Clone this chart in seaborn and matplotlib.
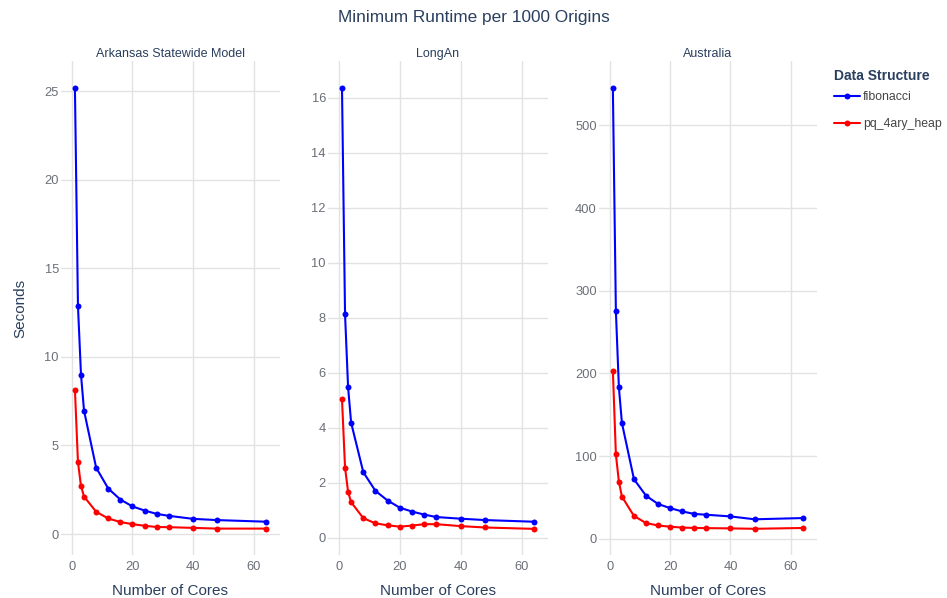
import pandas as pd
import matplotlib
matplotlib.use("Agg")
import matplotlib.pyplot as plt
import seaborn as sns

# data
cores = [1, 2, 3, 4, 8, 12, 16, 20, 24, 28, 32, 40, 48, 64]
networks = ["Arkansas Statewide Model", "LongAn", "Australia"]
structures = ["fibonacci", "pq_4ary_heap"]

arkansas_fib = [25.15, 12.87, 9.0, 6.97, 3.75, 2.57, 1.95, 1.56, 1.33, 1.14, 1.03, 0.86, 0.79, 0.70]
arkansas_pq = [8.14, 4.06, 2.72, 2.12, 1.26, 0.88, 0.68, 0.56, 0.47, 0.40, 0.39, 0.35, 0.31, 0.31]
longan_fib = [16.34, 8.12, 5.47, 4.18, 2.38, 1.70, 1.35, 1.09, 0.95, 0.84, 0.75, 0.69, 0.64, 0.58]
longan_pq = [5.03, 2.55, 1.67, 1.29, 0.71, 0.52, 0.45, 0.40, 0.44, 0.49, 0.49, 0.42, 0.37, 0.32]
australia_fib = [545, 275, 183, 140, 72, 52, 42, 37, 33, 30, 29, 27, 23.5, 25]
australia_pq = [203, 102, 69, 51, 27.5, 19, 16, 14.5, 13.5, 13, 12.8, 12.5, 12, 13]

series = {
    "Arkansas Statewide Model": {"fibonacci": arkansas_fib, "pq_4ary_heap": arkansas_pq},
    "LongAn": {"fibonacci": longan_fib, "pq_4ary_heap": longan_pq},
    "Australia": {"fibonacci": australia_fib, "pq_4ary_heap": australia_pq},
}

rows = []
for net in networks:
    for ds in structures:
        for c, v in zip(cores, series[net][ds]):
            rows.append({"Network": net, "Data Structure": ds, "Number of Cores": c, "Seconds": v})
df = pd.DataFrame(rows)

sns.set_theme(style="whitegrid")
plt.rcParams["font.family"] = ["Liberation Sans", "DejaVu Sans"]

navy = "#2a3f5f"
tick_col = "#6b6f78"
grid_col = "#e2e2e2"
palette = {"fibonacci": "#0000ff", "pq_4ary_heap": "#ff0000"}

fig = plt.figure(figsize=(9.47, 5.98), dpi=100)
W, H = 947, 598

# panel positions in pixels (left, right)
panels = [(61, 280), (328, 548), (599, 817)]
top, bottom = 61, 555
ylims = [(-1.18, 26.7), (-0.63, 17.33), (-19.7, 578)]
yticks = [range(0, 26, 5), range(0, 17, 2), range(0, 501, 100)]

axes = []
for i, net in enumerate(networks):
    l, r = panels[i]
    ax = fig.add_axes([l / W, 1 - bottom / H, (r - l) / W, (bottom - top) / H])
    sns.lineplot(data=df[df["Network"] == net], x="Number of Cores", y="Seconds",
                 hue="Data Structure", palette=palette, marker="o", markersize=4.3,
                 markeredgewidth=0, linewidth=1.5, ax=ax, legend=(i == 2))
    ax.set_xlim(-3.6, 68.7)
    ax.set_ylim(*ylims[i])
    ax.set_xticks([0, 20, 40, 60])
    ax.set_yticks(list(yticks[i]))
    ax.set_facecolor("white")
    ax.grid(True, color=grid_col, linewidth=1)
    for s in ax.spines.values():
        s.set_visible(False)
    ax.tick_params(axis="y", length=0, labelsize=9.3, colors=tick_col, pad=1.5)
    ax.tick_params(axis="x", length=0, labelsize=9.3, colors=tick_col, pad=4)
    ax.set_title(net, fontsize=9, color=navy, pad=3)
    ax.set_xlabel("Number of Cores", fontsize=11, color=navy, labelpad=8)
    if i == 0:
        ax.set_ylabel("Seconds", fontsize=11, color=navy, labelpad=12)
    else:
        ax.set_ylabel("")
    axes.append(ax)

# legend title drawn separately so its gap to the entries matches
sns.move_legend(axes[2], "upper left", bbox_to_anchor=(829 / W, 1 - 86 / H),
                bbox_transform=fig.transFigure, frameon=False, title=None,
                fontsize=8.8, handlelength=2.1, handletextpad=0.3,
                labelspacing=1.25, borderaxespad=0)
leg = axes[2].get_legend()
for t in leg.get_texts():
    t.set_color("#444444")
fig.text(834 / W, 1 - 76 / H, "Data Structure", fontsize=10, fontweight="bold",
         color=navy, ha="left", va="center")

fig.suptitle("Minimum Runtime per 1000 Origins", x=0.5, y=1 - 10 / H, fontsize=12.4, color=navy)

fig.savefig("out.png", dpi=100, facecolor="white")
